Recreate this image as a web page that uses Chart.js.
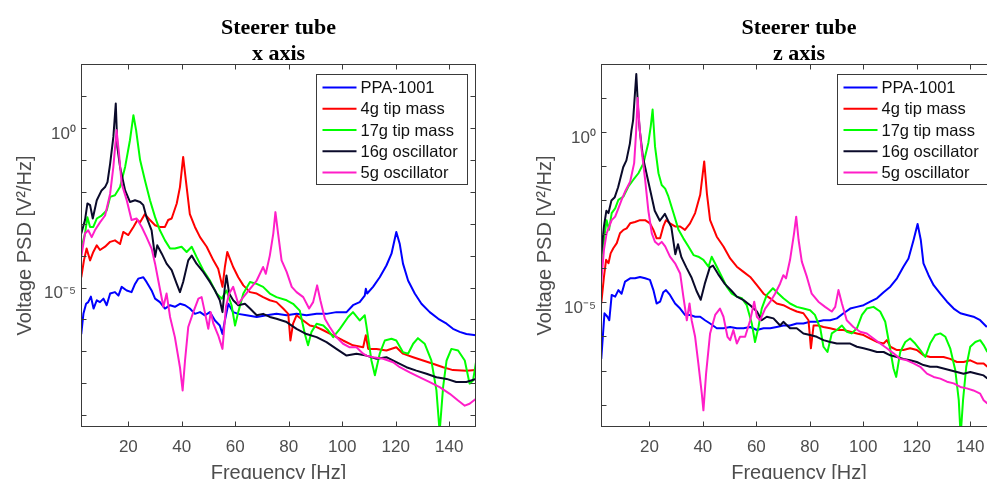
<!DOCTYPE html>
<html><head><meta charset="utf-8">
<script src="https://cdn.jsdelivr.net/npm/chart.js@4/dist/chart.umd.min.js"></script>
<style>
html,body{margin:0;padding:0;background:#fff;overflow:hidden;width:987px;height:479px;position:relative;}
#wrapX{position:absolute;left:0;top:0;width:490px;height:485px;}
#wrapZ{position:absolute;left:520px;top:0;width:491px;height:485px;}
</style></head><body>
<div id="wrapX"><canvas id="cx" width="490" height="485"></canvas></div>
<div id="wrapZ"><canvas id="cz" width="491" height="485"></canvas></div>
<script>
// ---------- data: [frequency Hz, PSD V^2/Hz] ----------
const seriesNames = ['PPA-1001','4g tip mass','17g tip mass','16g oscillator','5g oscillator'];
const panelTitles = [['Steerer tube','x axis'],['Steerer tube','z axis']];
const xTickValues = [20,40,60,80,100,120,140];
const yDecades = [1e-9,1e-8,1e-7,1e-6,1e-5,1e-4,1e-3,1e-2,1e-1,1,10];
const yLabelValues = [1, 1e-5];
const yLabelTexts = ['10⁰','10⁻⁵'];

// x axis panel
const xPPA = [[2.4,3.5e-7],[3.2,1.5e-6],[4.2,3.1e-6],[5.0,3.5e-6],[6.0,5.2e-6],[7.0,2.2e-6],[8.2,4.0e-6],[9.4,3.5e-6],[10.7,4.5e-6],[11.9,2.8e-6],[13.2,6.5e-6],[15.0,7.2e-6],[16.3,5.6e-6],[17.5,1.05e-5],[19.4,8.1e-6],[21.2,7.2e-6],[22.5,1.3e-5],[23.7,1.9e-5],[25.6,2.1e-5],[26.8,1.5e-5],[28.7,8.1e-6],[30.0,4.5e-6],[31.8,3.5e-6],[33.7,2.2e-6],[35.6,2.8e-6],[37.4,2.5e-6],[39.3,3.1e-6],[41.2,2.8e-6],[43.0,2.2e-6],[44.9,1.5e-6],[46.8,1.7e-6],[48.6,1.35e-6],[50.5,1.7e-6],[52.4,9.3e-7],[54.2,6.5e-7],[55.2,3.5e-7],[56.1,9.3e-7],[57.4,3.1e-6],[59.2,1.7e-6],[61.1,1.5e-6],[64.2,1.35e-6],[68.0,1.2e-6],[71.7,1.35e-6],[75.4,1.5e-6],[79.2,1.35e-6],[82.9,1.5e-6],[86.6,1.35e-6],[90.4,1.5e-6],[94.1,1.5e-6],[97.8,1.7e-6],[101.6,1.7e-6],[104.0,2.8e-6],[106.5,3.5e-6],[108.4,5.6e-6],[108.8,9.1e-6],[109.3,6.5e-6],[111.5,1.05e-5],[114.0,2.1e-5],[116.5,4.9e-5],[118.4,1.15e-4],[120.2,5.5e-4],[121.5,2.3e-4],[122.7,5.6e-5],[124.6,1.66e-5],[127.1,6.5e-6],[129.6,3.1e-6],[132.7,1.7e-6],[135.9,1.05e-6],[139.0,7.4e-7],[141.4,5.1e-7],[143.9,4.1e-7],[146.4,3.5e-7],[150.0,3.2e-7]];
const x4g = [[2.4,2.1e-5],[3.4,7.1e-5],[4.4,1.66e-4],[5.7,7.1e-5],[6.9,1.3e-4],[8.2,2.1e-4],[9.4,1.5e-4],[11.3,1.9e-4],[13.2,2.7e-4],[15.0,3.0e-4],[16.9,2.3e-4],[18.1,5.5e-4],[20.0,4.4e-4],[21.9,7.9e-4],[23.4,1.3e-3],[24.4,1.1e-3],[26.2,2.0e-3],[28.1,1.3e-3],[30.0,8.9e-4],[31.8,7.9e-4],[33.7,7.9e-4],[34.9,1.3e-3],[36.2,1.45e-3],[38.1,4.3e-3],[39.3,1.4e-2],[40.5,0.123],[41.5,2.3e-2],[43.0,2.0e-3],[44.9,7.9e-4],[46.8,3.8e-4],[49.3,1.9e-4],[51.8,7.1e-5],[53.6,3.9e-5],[55.2,1.05e-5],[56.1,4.4e-5],[57.0,1.3e-4],[58.0,7.9e-5],[59.2,4.4e-5],[61.1,2.1e-5],[63.0,1.17e-5],[65.5,7.2e-6],[68.0,6.5e-6],[70.4,5.0e-6],[72.9,4.0e-6],[75.4,3.5e-6],[77.9,2.2e-6],[79.8,1.5e-6],[80.6,2.2e-7],[81.6,7.4e-7],[82.9,1.35e-6],[85.4,9.3e-7],[87.9,6.5e-7],[90.4,5.8e-7],[92.9,4.6e-7],[96.6,3.2e-7],[100.3,2.2e-7],[104.0,1.55e-7],[107.8,1.35e-7],[108.8,3.2e-7],[109.7,1.2e-7],[112.8,1.2e-7],[116.5,1.07e-7],[120.2,1.35e-7],[122.7,8.5e-8],[126.5,6.6e-8],[130.2,5.2e-8],[133.9,4.1e-8],[137.7,3.2e-8],[141.4,2.6e-8],[146.4,2.5e-8],[150.0,2.6e-8]];
const x17g = [[2.4,1.66e-4],[3.8,4.9e-4],[4.7,1.6e-3],[5.7,7.9e-4],[6.9,7.9e-4],[8.2,1.45e-3],[10.0,1.8e-3],[11.9,2.6e-3],[13.2,6.9e-3],[15.0,7.8e-3],[16.9,1.4e-2],[18.8,6.0e-2],[20.6,0.41],[21.9,2.5],[22.9,0.85],[24.4,9.8e-2],[26.2,2.3e-2],[28.1,5.4e-3],[30.0,1.6e-3],[31.8,6.2e-4],[33.7,3.0e-4],[35.6,1.66e-4],[37.4,1.66e-4],[39.9,1.9e-4],[41.8,1.3e-4],[43.7,1.9e-4],[45.5,9.1e-5],[48.0,3.5e-5],[50.5,1.66e-5],[53.0,6.5e-6],[54.9,4.5e-6],[56.7,8.1e-6],[58.6,2.8e-6],[59.9,6.5e-7],[61.1,1.7e-6],[63.0,6.5e-6],[65.5,1.5e-5],[68.0,1.3e-5],[70.4,1.05e-5],[72.9,6.5e-6],[75.4,5.0e-6],[79.2,4.0e-6],[81.6,3.1e-6],[84.1,1.9e-6],[86.0,3.5e-7],[87.2,1.55e-7],[88.5,4.1e-7],[90.4,7.4e-7],[92.9,6.5e-7],[94.7,4.6e-7],[96.6,2.8e-7],[99.1,5.1e-7],[102.2,1.2e-6],[104.0,1.7e-6],[106.5,9.3e-7],[108.4,1.35e-6],[109.0,6.5e-7],[110.9,5.2e-8],[112.2,1.8e-8],[114.0,8.5e-8],[115.9,2.2e-7],[118.4,2.5e-7],[120.2,2.2e-7],[122.7,9.5e-8],[124.6,8.5e-8],[126.5,1.74e-7],[128.3,2.6e-7],[130.8,1.74e-7],[133.3,5.2e-8],[135.2,6.0e-9],[136.4,3e-10],[137.7,7.6e-9],[139.0,5.2e-8],[140.8,1.2e-7],[143.3,1.07e-7],[145.8,5.2e-8],[147.6,9.8e-9],[148.9,1.23e-8],[150.0,4.6e-8]];
const x16g = [[2.4,4.9e-4],[3.8,1.3e-3],[4.7,4.3e-3],[5.7,3.8e-3],[6.7,1.45e-3],[8.2,5.4e-3],[10.0,1.1e-2],[11.3,1.4e-2],[12.2,2.0e-2],[13.2,7.6e-2],[14.4,0.52],[15.3,5.8],[15.9,0.25],[16.9,6.0e-2],[18.8,1.1e-2],[20.6,4.8e-3],[22.5,5.4e-3],[24.4,4.8e-3],[25.6,3.8e-3],[26.8,1.6e-3],[28.7,6.2e-4],[30.0,9.1e-5],[30.8,2.1e-4],[32.5,1.15e-4],[34.3,5.6e-5],[36.2,3.5e-5],[38.1,1.3e-5],[39.3,7.2e-6],[40.5,1.5e-5],[42.4,7.1e-5],[43.7,1.0e-4],[45.5,5.6e-5],[48.0,3.1e-5],[50.5,1.5e-5],[52.4,8.1e-6],[54.2,4.0e-6],[55.2,1.7e-6],[56.1,1.05e-5],[56.7,2.4e-5],[57.7,6.5e-6],[59.2,4.0e-6],[61.1,2.8e-6],[63.6,3.1e-6],[65.5,2.2e-6],[68.0,1.35e-6],[70.4,1.5e-6],[72.9,1.2e-6],[75.4,1.05e-6],[79.2,8.3e-7],[82.9,5.1e-7],[86.6,3.5e-7],[90.4,2.8e-7],[94.1,1.95e-7],[97.8,1.2e-7],[101.6,7.4e-8],[105.3,8.5e-8],[109.0,7.4e-8],[112.8,5.9e-8],[116.5,6.6e-8],[120.2,4.6e-8],[124.0,3.2e-8],[127.7,2.5e-8],[131.5,2.0e-8],[135.2,1.55e-8],[139.0,1.38e-8],[142.6,1.1e-8],[146.4,1.1e-8],[150.0,1.38e-8]];
const x5g = [[2.4,9.1e-5],[3.8,4.9e-4],[5.0,6.2e-4],[6.3,3.8e-4],[7.5,6.2e-4],[9.4,1.1e-3],[11.3,1.8e-3],[13.2,8.7e-3],[14.4,6.0e-2],[15.6,0.85],[16.5,0.16],[17.5,1.8e-2],[19.4,5.4e-3],[21.2,1.3e-3],[23.1,1.45e-3],[25.0,7.9e-4],[26.8,3.8e-4],[28.7,1.66e-4],[30.0,5.6e-5],[31.2,1.66e-5],[33.1,2.5e-6],[34.3,6.5e-6],[35.6,1.2e-6],[37.4,2.8e-7],[39.3,3.2e-8],[40.3,6.0e-9],[41.2,5.2e-8],[42.4,5.8e-7],[44.3,1.7e-6],[46.2,4.5e-6],[47.4,5.0e-6],[48.6,1.7e-6],[49.9,5.1e-7],[50.8,1.7e-6],[51.8,7.4e-7],[53.6,3.2e-7],[55.2,1.2e-7],[56.5,2.5e-6],[57.7,6.5e-6],[59.2,1.05e-5],[61.1,3.1e-6],[63.0,5.0e-6],[65.5,9.1e-6],[68.0,1.66e-5],[70.4,4.4e-5],[71.4,2.7e-5],[72.9,1.0e-4],[74.2,4.9e-4],[75.0,2.3e-3],[76.0,4.9e-4],[77.3,7.1e-5],[79.2,3.1e-5],[81.1,1.05e-5],[82.9,7.2e-6],[85.4,5.0e-6],[87.6,2.2e-6],[89.1,3.5e-6],[90.6,1.17e-5],[91.8,4.0e-6],[93.5,1.05e-6],[95.3,5.8e-7],[97.8,2.8e-7],[100.3,1.74e-7],[102.8,1.35e-7],[105.3,1.35e-7],[107.8,8.5e-8],[109.0,7.4e-8],[111.5,6.6e-8],[115.3,5.9e-8],[119.0,4.6e-8],[121.5,3.2e-8],[125.2,2.2e-8],[129.0,1.55e-8],[132.7,1.1e-8],[136.4,7.6e-9],[140.2,4.7e-9],[143.3,2.9e-9],[145.8,2.0e-9],[147.6,2.3e-9],[150.0,3.3e-9]];

// z axis panel
const zPPA = [[2.0,2.2e-7],[3.2,4.8e-6],[4.3,3.8e-6],[5.0,3.0e-6],[5.9,1.66e-5],[7.2,1.48e-5],[8.4,2.3e-5],[9.6,1.8e-5],[10.9,4.1e-5],[12.8,5.1e-5],[14.6,5.1e-5],[16.5,5.6e-5],[18.4,5.1e-5],[20.2,4.6e-5],[21.5,2.3e-5],[22.7,9.3e-6],[24.0,1.05e-5],[25.2,2.0e-5],[26.2,2.3e-5],[27.7,1.66e-5],[29.6,9.3e-6],[31.5,6.6e-6],[33.3,4.3e-6],[35.2,4.3e-6],[37.1,3.8e-6],[39.0,3.8e-6],[40.8,3.0e-6],[42.7,2.4e-6],[45.2,1.74e-6],[47.7,1.74e-6],[50.2,1.9e-6],[52.7,1.74e-6],[55.2,1.74e-6],[57.7,1.9e-6],[60.2,1.55e-6],[62.7,1.74e-6],[65.2,1.74e-6],[67.6,1.9e-6],[70.1,2.1e-6],[72.6,2.1e-6],[75.1,2.4e-6],[77.6,2.4e-6],[80.1,2.7e-6],[82.6,2.7e-6],[85.1,3.0e-6],[87.6,3.0e-6],[90.1,3.4e-6],[92.6,4.8e-6],[95.1,6.6e-6],[97.6,7.4e-6],[100.1,8.3e-6],[102.6,1.05e-5],[105.1,1.32e-5],[107.6,2.0e-5],[110.1,2.9e-5],[112.6,5.1e-5],[115.0,1.12e-4],[116.9,1.95e-4],[118.8,6.8e-4],[120.3,2.0e-3],[121.5,6.8e-4],[122.5,1.41e-4],[124.4,6.3e-5],[126.3,3.2e-5],[128.8,1.8e-5],[131.3,1.05e-5],[133.8,6.6e-6],[136.3,4.8e-6],[138.7,4.3e-6],[141.2,3.8e-6],[143.7,3.0e-6],[146.2,1.9e-6]];
const z4g = [[2.0,9.3e-6],[3.0,5.6e-5],[3.8,1.78e-4],[4.7,1.41e-4],[5.5,2.75e-4],[6.5,3.9e-4],[7.8,5.5e-4],[9.0,1.07e-3],[10.3,1.35e-3],[11.5,1.5e-3],[12.8,2.1e-3],[14.6,2.3e-3],[16.5,2.6e-3],[18.4,2.6e-3],[20.2,2.1e-3],[21.5,1.35e-3],[22.7,7.6e-4],[24.0,7.6e-4],[25.2,1.7e-3],[26.2,2.6e-3],[27.7,2.1e-3],[29.6,1.7e-3],[31.5,1.7e-3],[33.3,1.35e-3],[35.2,2.1e-3],[37.1,4.2e-3],[39.0,1.45e-2],[40.5,0.138],[41.5,1.6e-2],[42.7,2.6e-3],[45.2,8.5e-4],[47.7,4.4e-4],[50.2,1.95e-4],[52.7,1.12e-4],[55.2,7.9e-5],[57.7,5.6e-5],[60.2,3.2e-5],[62.7,1.8e-5],[65.2,1.32e-5],[67.6,9.3e-6],[70.1,8.3e-6],[72.6,6.6e-6],[75.1,5.4e-6],[77.6,4.8e-6],[79.5,3.0e-6],[80.4,4.5e-7],[81.4,2.1e-6],[83.2,2.1e-6],[85.1,1.9e-6],[87.6,1.74e-6],[90.1,1.55e-6],[92.6,1.55e-6],[95.1,1.38e-6],[97.6,1.23e-6],[100.1,1.1e-6],[102.6,8.7e-7],[105.1,6.9e-7],[107.6,6.2e-7],[108.8,7.8e-7],[110.1,5.0e-7],[112.6,4.0e-7],[115.0,4.0e-7],[117.5,4.5e-7],[120.0,4.0e-7],[122.5,2.8e-7],[125.0,2.5e-7],[127.5,2.5e-7],[130.0,2.5e-7],[132.5,2.2e-7],[135.0,1.78e-7],[137.5,1.78e-7],[140.0,2.0e-7],[142.5,1.62e-7],[145.0,1.62e-7],[146.4,1.29e-7]];
const z17g = [[2.0,8.9e-5],[3.0,6.8e-4],[4.0,2.6e-3],[4.9,1.35e-3],[5.9,4.2e-3],[7.2,5.8e-3],[8.4,1.02e-2],[10.3,1.29e-2],[12.1,2.5e-2],[14.0,4.0e-2],[15.9,6.2e-2],[17.8,0.123],[19.6,0.48],[20.5,1.48],[21.2,4.6],[22.1,0.38],[23.4,6.2e-2],[24.6,2.8e-2],[25.9,2.2e-2],[27.1,1.29e-2],[29.0,4.2e-3],[30.9,1.35e-3],[32.7,7.6e-4],[34.6,4.4e-4],[36.5,2.45e-4],[38.3,2.2e-4],[40.2,1.78e-4],[42.1,1.12e-4],[43.3,2.2e-4],[45.2,1.12e-4],[47.1,5.6e-5],[48.9,2.9e-5],[50.8,1.8e-5],[52.7,1.48e-5],[54.6,1.32e-5],[56.4,8.3e-6],[58.3,2.4e-6],[59.5,6.9e-7],[60.8,1.9e-6],[62.0,6.6e-6],[63.9,1.66e-5],[66.2,2.6e-5],[68.3,1.8e-5],[70.1,1.32e-5],[72.6,9.3e-6],[75.1,7.4e-6],[77.6,6.6e-6],[80.1,5.9e-6],[81.9,4.3e-6],[83.9,1.74e-6],[85.1,5.0e-7],[86.6,3.5e-7],[88.2,1.23e-6],[90.1,1.55e-6],[92.0,2.1e-6],[93.8,1.38e-6],[95.7,1.23e-6],[97.6,1.74e-6],[99.5,4.3e-6],[101.3,6.6e-6],[103.8,7.4e-6],[106.3,5.4e-6],[108.2,2.7e-6],[110.1,4.0e-7],[111.3,1.15e-7],[112.3,6.5e-8],[113.8,3.5e-7],[115.7,6.9e-7],[117.5,8.7e-7],[119.4,6.2e-7],[121.3,4.0e-7],[123.2,2.5e-7],[125.0,6.2e-7],[126.9,1.1e-6],[128.8,1.23e-6],[130.7,9.8e-7],[132.5,4.5e-7],[134.4,1.02e-7],[135.7,1.35e-8],[136.4,1.2e-9],[137.3,1.35e-8],[138.5,1.29e-7],[140.0,5.0e-7],[141.9,6.9e-7],[143.7,7.8e-7],[145.0,5.6e-7],[146.4,3.5e-7]];
const z16g = [[2.0,2.6e-4],[3.0,1.7e-3],[3.9,4.9e-3],[4.7,4.2e-3],[5.8,9.8e-3],[7.05,1.23e-2],[8.3,2.4e-2],[10.2,9.3e-2],[11.4,0.148],[12.7,0.46],[13.3,1.12],[13.9,2.2],[14.5,10.7],[15.1,51],[15.8,4.4],[16.4,1.12],[17.6,0.18],[19.5,3.8e-2],[22.0,4.9e-3],[23.9,2.5e-3],[25.8,4.0e-3],[27.0,2.5e-3],[28.2,1.62e-3],[29.7,2.6e-4],[30.7,5.1e-4],[32.0,2.1e-4],[33.8,1.07e-4],[35.7,5.5e-5],[37.6,2.2e-5],[39.2,1.2e-5],[40.7,3.5e-5],[42.6,1.07e-4],[43.8,1.2e-4],[45.7,6.8e-5],[48.2,3.5e-5],[50.7,2.2e-5],[52.7,1.48e-5],[55.2,1.17e-5],[57.7,8.3e-6],[60.2,5.4e-6],[62.0,3.0e-6],[63.9,3.8e-6],[66.4,3.4e-6],[68.9,2.1e-6],[70.1,2.7e-6],[72.6,1.74e-6],[75.1,1.74e-6],[77.6,1.23e-6],[80.1,1.1e-6],[82.6,9.8e-7],[85.1,7.8e-7],[87.6,6.9e-7],[90.1,6.2e-7],[92.6,6.2e-7],[95.1,6.2e-7],[97.6,5.0e-7],[100.1,4.5e-7],[102.6,4.0e-7],[105.1,3.5e-7],[107.6,3.5e-7],[110.1,2.8e-7],[112.6,2.5e-7],[115.0,2.2e-7],[117.5,2.0e-7],[120.0,1.78e-7],[122.5,1.45e-7],[125.0,1.29e-7],[127.5,1.29e-7],[130.0,1.15e-7],[132.5,1.02e-7],[135.0,9.1e-8],[137.5,8.1e-8],[140.0,9.1e-8],[142.5,8.1e-8],[145.0,7.2e-8],[146.4,5.8e-8]];
const z5g = [[2.0,4.1e-5],[3.0,3.5e-4],[4.0,1.07e-3],[5.0,1.7e-3],[5.9,2.6e-3],[7.2,3.3e-3],[8.4,5.8e-3],[9.6,1.02e-2],[10.9,1.8e-2],[12.8,3.5e-2],[14.3,0.123],[15.0,0.93],[15.6,10],[16.3,1.48],[17.1,0.3],[18.4,4.0e-2],[19.6,5.0e-3],[20.9,1.07e-3],[22.1,6.0e-4],[23.4,4.9e-4],[24.6,6.0e-4],[25.9,4.4e-4],[27.7,2.2e-4],[29.6,1.41e-4],[31.5,7.1e-5],[32.7,1.48e-5],[34.0,3.0e-6],[35.0,9.3e-6],[35.8,3.0e-6],[37.1,9.8e-7],[38.3,1.62e-7],[39.6,2.1e-8],[40.2,6.8e-9],[41.2,8.1e-8],[42.7,1.23e-6],[44.6,4.3e-6],[46.4,6.6e-6],[47.7,3.8e-6],[49.2,9.8e-7],[50.2,7.8e-7],[51.4,1.55e-6],[52.7,6.2e-7],[53.9,9.8e-7],[55.8,9.8e-7],[57.7,3.0e-6],[59.2,1.05e-5],[60.2,3.8e-6],[61.4,3.0e-6],[63.3,6.6e-6],[65.2,1.05e-5],[67.0,1.8e-5],[68.9,3.6e-5],[70.1,6.3e-5],[71.1,5.1e-5],[72.6,1.78e-4],[74.1,1.07e-3],[74.9,3.3e-3],[75.8,6.8e-4],[77.0,1.58e-4],[78.9,5.6e-5],[80.7,1.8e-5],[83.2,1.05e-5],[85.7,7.4e-6],[88.2,5.4e-6],[89.5,7.4e-6],[90.7,2.3e-5],[92.0,9.3e-6],[93.8,3.0e-6],[96.3,1.9e-6],[98.8,1.38e-6],[101.3,1.23e-6],[103.8,8.7e-7],[106.3,6.2e-7],[108.8,4.5e-7],[111.3,3.2e-7],[113.8,2.2e-7],[116.3,2.0e-7],[118.8,1.62e-7],[121.3,1.29e-7],[123.8,8.1e-8],[126.3,6.5e-8],[128.8,5.8e-8],[131.3,4.7e-8],[133.8,4.2e-8],[136.3,3.3e-8],[138.7,3.0e-8],[141.2,2.6e-8],[143.7,2.1e-8],[145.0,1.35e-8],[146.4,1.07e-8]];

// ---------- styling ----------
const seriesColors = ['#0000ff','#ff0000','#00ff00','#0a0a2a','#ff1ec8'];
const SANS = "'Liberation Sans', Arial, sans-serif";
const AXIS_TEXT = '#4d4d4d';

const framePlugin = {
  id: 'frame',
  afterDatasetsDraw(chart) {
    const {ctx, chartArea: a, scales} = chart;
    const L = Math.round(a.left) + 0.5, R = Math.round(a.right) - 0.5;
    const T = Math.round(a.top) + 0.5, B = Math.round(a.bottom) - 0.5;
    ctx.save();
    ctx.strokeStyle = '#3a3a3a';
    ctx.lineWidth = 1;
    ctx.strokeRect(L, T, R - L, B - T);
    ctx.beginPath();
    xTickValues.forEach(v => {
      const px = Math.round(scales.x.getPixelForValue(v)) + 0.5;
      ctx.moveTo(px, B); ctx.lineTo(px, B - 5);
      ctx.moveTo(px, T); ctx.lineTo(px, T + 5);
    });
    yDecades.forEach(v => {
      if (v <= scales.y.min || v >= scales.y.max) return;
      const py = Math.round(scales.y.getPixelForValue(v)) + 0.5;
      ctx.moveTo(L, py); ctx.lineTo(L + 5, py);
      ctx.moveTo(R, py); ctx.lineTo(R - 5, py);
    });
    ctx.stroke();
    ctx.restore();
  }
};

const boxLegendPlugin = {
  id: 'boxLegend',
  afterDraw(chart) {
    const {ctx, chartArea: a} = chart;
    const w = 151, h = 110;
    const x0 = Math.round(a.right - 9.5 - w) + 0.5;
    const y0 = Math.round(a.top + 10) + 0.5;
    ctx.save();
    ctx.fillStyle = '#ffffff';
    ctx.fillRect(x0, y0, w, h);
    ctx.strokeStyle = '#3a3a3a';
    ctx.lineWidth = 1;
    ctx.strokeRect(x0, y0, w, h);
    ctx.font = '16.5px ' + SANS;
    ctx.textBaseline = 'middle';
    ctx.textAlign = 'left';
    chart.data.datasets.forEach((ds, i) => {
      const y = y0 + 13 + i * 21.25;
      ctx.strokeStyle = ds.borderColor;
      ctx.lineWidth = 2;
      ctx.beginPath();
      ctx.moveTo(x0 + 6, y); ctx.lineTo(x0 + 40, y);
      ctx.stroke();
      ctx.fillStyle = '#111111';
      ctx.fillText(ds.label, x0 + 44, y + 1);
    });
    ctx.restore();
  }
};

function makeChart(canvasId, title, xMin, yMin, seriesList) {
  const datasets = seriesList.map((pts, i) => ({
    label: seriesNames[i],
    data: pts.map(p => ({x: p[0], y: p[1]})),
    borderColor: seriesColors[i],
    backgroundColor: seriesColors[i],
    borderWidth: 2,
    pointRadius: 0,
    tension: 0,
    fill: false,
    clip: 0,
    borderJoinStyle: 'round',
    order: seriesList.length - i
  }));
  return new Chart(document.getElementById(canvasId), {
    type: 'line',
    data: {datasets},
    plugins: [framePlugin, boxLegendPlugin],
    options: {
      responsive: false,
      animation: false,
      devicePixelRatio: 1,
      layout: {padding: {left: 0, right: 14, top: 0, bottom: 0}},
      plugins: {
        legend: {display: false},
        tooltip: {enabled: false},
        title: {
          display: true,
          text: title,
          fullSize: false,
          color: '#000000',
          font: {family: "'Liberation Serif', 'Times New Roman', serif", size: 22, weight: 'bold', lineHeight: '26px'},
          padding: {top: 15, bottom: -3}
        }
      },
      scales: {
        x: {
          type: 'linear',
          position: 'bottom',
          min: xMin,
          max: 150,
          grid: {display: false, drawTicks: false},
          border: {display: false},
          afterBuildTicks: s => { s.ticks = xTickValues.map(v => ({value: v})); },
          afterFit: s => { s.height = 58; },
          ticks: {color: AXIS_TEXT, font: {family: SANS, size: 17}, padding: 10, maxRotation: 0, autoSkip: false},
          title: {display: true, text: 'Frequency [Hz]', color: AXIS_TEXT, font: {family: SANS, size: 20}, padding: {top: 0, bottom: 0}}
        },
        y: {
          type: 'logarithmic',
          position: 'left',
          min: yMin,
          max: 100,
          grid: {display: false, drawTicks: false},
          border: {display: false},
          afterBuildTicks: s => { s.ticks = yDecades.filter(v => v >= s.min && v <= s.max).map(v => ({value: v})); },
          afterFit: s => { s.width = 81; },
          ticks: {
            color: AXIS_TEXT, font: {family: SANS, size: 17}, padding: 5, labelOffset: 6, autoSkip: false,
            callback: v => {
              const k = yLabelValues.findIndex(t => Math.abs(Math.log10(v) - Math.log10(t)) < 1e-6);
              return k >= 0 ? yLabelTexts[k] : '';
            }
          },
          title: {display: true, text: 'Voltage PSD [V²/Hz]', color: AXIS_TEXT, font: {family: SANS, size: 20}, padding: {top: 13, bottom: 0}}
        }
      }
    }
  });
}

makeChart('cx', panelTitles[0], 2.3, 4.3e-10, [xPPA, x4g, x17g, x16g, x5g]);
makeChart('cz', panelTitles[1], 1.9, 2.2e-9, [zPPA, z4g, z17g, z16g, z5g]);
</script>
</body></html>
